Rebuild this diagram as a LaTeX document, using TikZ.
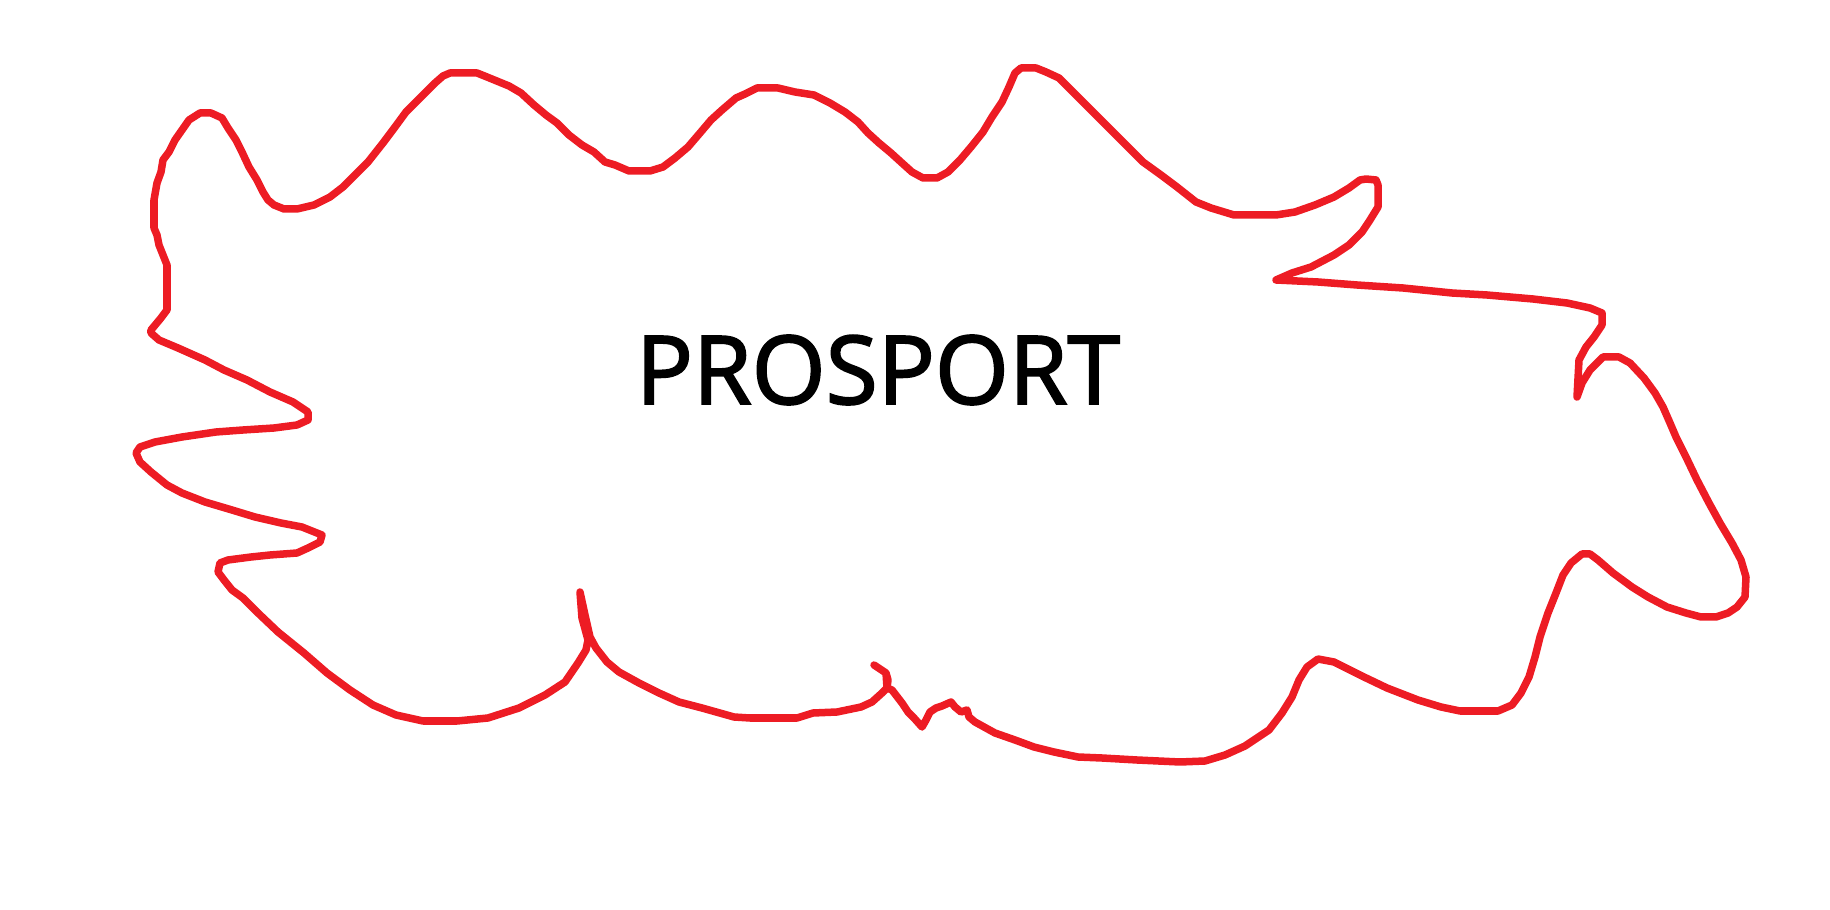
\documentclass[tikz,border=0pt]{standalone}
\usepackage{fontspec}
\setmainfont{Open Sans}
\newfontfamily\brandfont[FakeBold=2]{Open Sans}
\definecolor{paintred}{RGB}{237,28,36}
\tikzset{
  outline/.style={draw=paintred, line width=0.075cm, line join=round, line cap=round},
  brand/.style={font=\brandfont\fontsize{27pt}{30pt}\selectfont, inner sep=0pt}
}
\begin{document}
\begin{tikzpicture}[x=0.01cm, y=-0.01cm]

\def \xtext {878}
\def \ytext {370}

% frame
\useasboundingbox (0,0) rectangle (1830,910);
% outline, clockwise from the small curl on the left
\draw [outline] plot coordinates {
  (151,330) (161,318) (167,310) (167,265) (163,255) (159,245) (157,235) (154,228)
  (154,200) (157,183) (161,172) (163,160) (169,152) (175,140) (182,130) (189,120)
  (200,113) (211,113) (222,118) (228,128) (236,140) (242,152) (249,167) (257,180)
  (263,192) (268,200) (274,205) (284,209) (297,209) (314,205) (330,197) (343,187)
  (353,177) (368,162) (383,143) (395,127) (406,112) (421,97) (435,83) (443,76)
  (450,73) (477,73) (487,77) (509,86) (521,93) (534,105) (546,115) (557,123)
  (569,135) (582,145) (594,152) (605,162) (615,165) (629,171) (650,171) (663,167)
  (675,158) (688,147) (700,133) (711,120) (722,110) (736,98) (745,94) (757,88)
  (778,88) (795,92) (814,95) (830,103) (845,112) (858,122) (868,133) (879,143)
  (891,153) (902,163) (912,172) (923,178) (937,178) (948,172) (960,160) (971,147)
  (983,132) (992,117) (1002,102) (1009,87) (1015,73) (1021,68) (1036,68) (1046,72)
  (1059,78) (1071,90) (1084,103) (1098,117) (1113,132) (1128,147) (1143,162) (1161,175)
  (1177,187) (1196,202) (1211,208) (1234,215) (1276,215) (1295,212) (1315,205) (1334,197)
  (1349,188) (1360,180) (1366,179) (1376,180) (1378,185) (1378,207) (1370,220) (1362,232)
  (1349,245) (1334,255) (1311,267) (1292,273) (1276,280) (1318,282) (1357,285) (1403,288)
  (1452,293) (1487,295) (1533,299) (1567,303) (1590,308) (1602,313) (1602,325) (1594,337)
  (1586,347) (1579,360) (1577,397) (1582,383) (1590,370) (1603,357) (1619,357) (1630,363)
  (1644,378) (1655,393) (1663,407) (1670,423) (1676,437) (1686,457) (1697,480) (1709,503)
  (1720,523) (1732,543) (1741,560) (1746,577) (1745,597) (1737,607) (1728,613) (1716,617)
  (1701,617) (1686,613) (1667,607) (1648,597) (1632,587) (1613,573) (1598,560) (1590,554)
  (1582,554) (1571,563) (1563,575) (1556,593) (1548,613) (1540,637) (1535,657) (1529,677)
  (1521,693) (1512,705) (1498,711) (1460,711) (1441,707) (1418,700) (1387,688) (1364,677)
  (1334,662) (1318,659) (1307,667) (1299,680) (1292,697) (1282,713) (1269,730) (1257,738)
  (1245,746) (1225,755) (1205,761) (1180,762) (1137,760) (1102,758) (1078,757) (1054,752)
  (1034,747) (1015,740) (995,733) (975,722) (969,717) (967,710) (961,712) (955,707)
  (951,702) (942,706) (936,708) (930,712) (926,720) (922,727) (914,718) (908,712)
  (902,703) (892,690) (887,688) (888,680) (886,673) (874,665) (886,673) (887,688)
  (882,693) (872,702) (861,707) (837,712) (813,713) (797,718) (750,718) (734,717)
  (702,708) (679,702) (659,693) (639,683) (619,672) (607,662) (596,648) (590,637)
  (585,615) (580,592) (582,618) (588,640) (586,650) (578,663) (565,682) (545,695)
  (519,708) (488,718) (457,721) (423,721) (396,715) (373,705) (350,690) (327,673)
  (304,653) (278,632) (258,613) (243,598) (232,590) (224,580) (218,572) (220,563)
  (228,560) (251,557) (270,555) (297,553) (308,548) (320,542) (322,535) (302,527)
  (281,523) (255,517) (232,510) (205,502) (182,493) (167,485) (151,472) (140,462)
  (136,453) (140,447) (155,442) (182,437) (216,432) (243,430) (274,428) (297,425)
  (308,420) (308,412) (293,402) (270,392) (247,380) (224,370) (205,360) (178,348)
  (159,340) (151,333) (151,330)
};
% label
\node [brand] (name) at (\xtext, \ytext) {PROSPORT};

\end{tikzpicture}
\end{document}
